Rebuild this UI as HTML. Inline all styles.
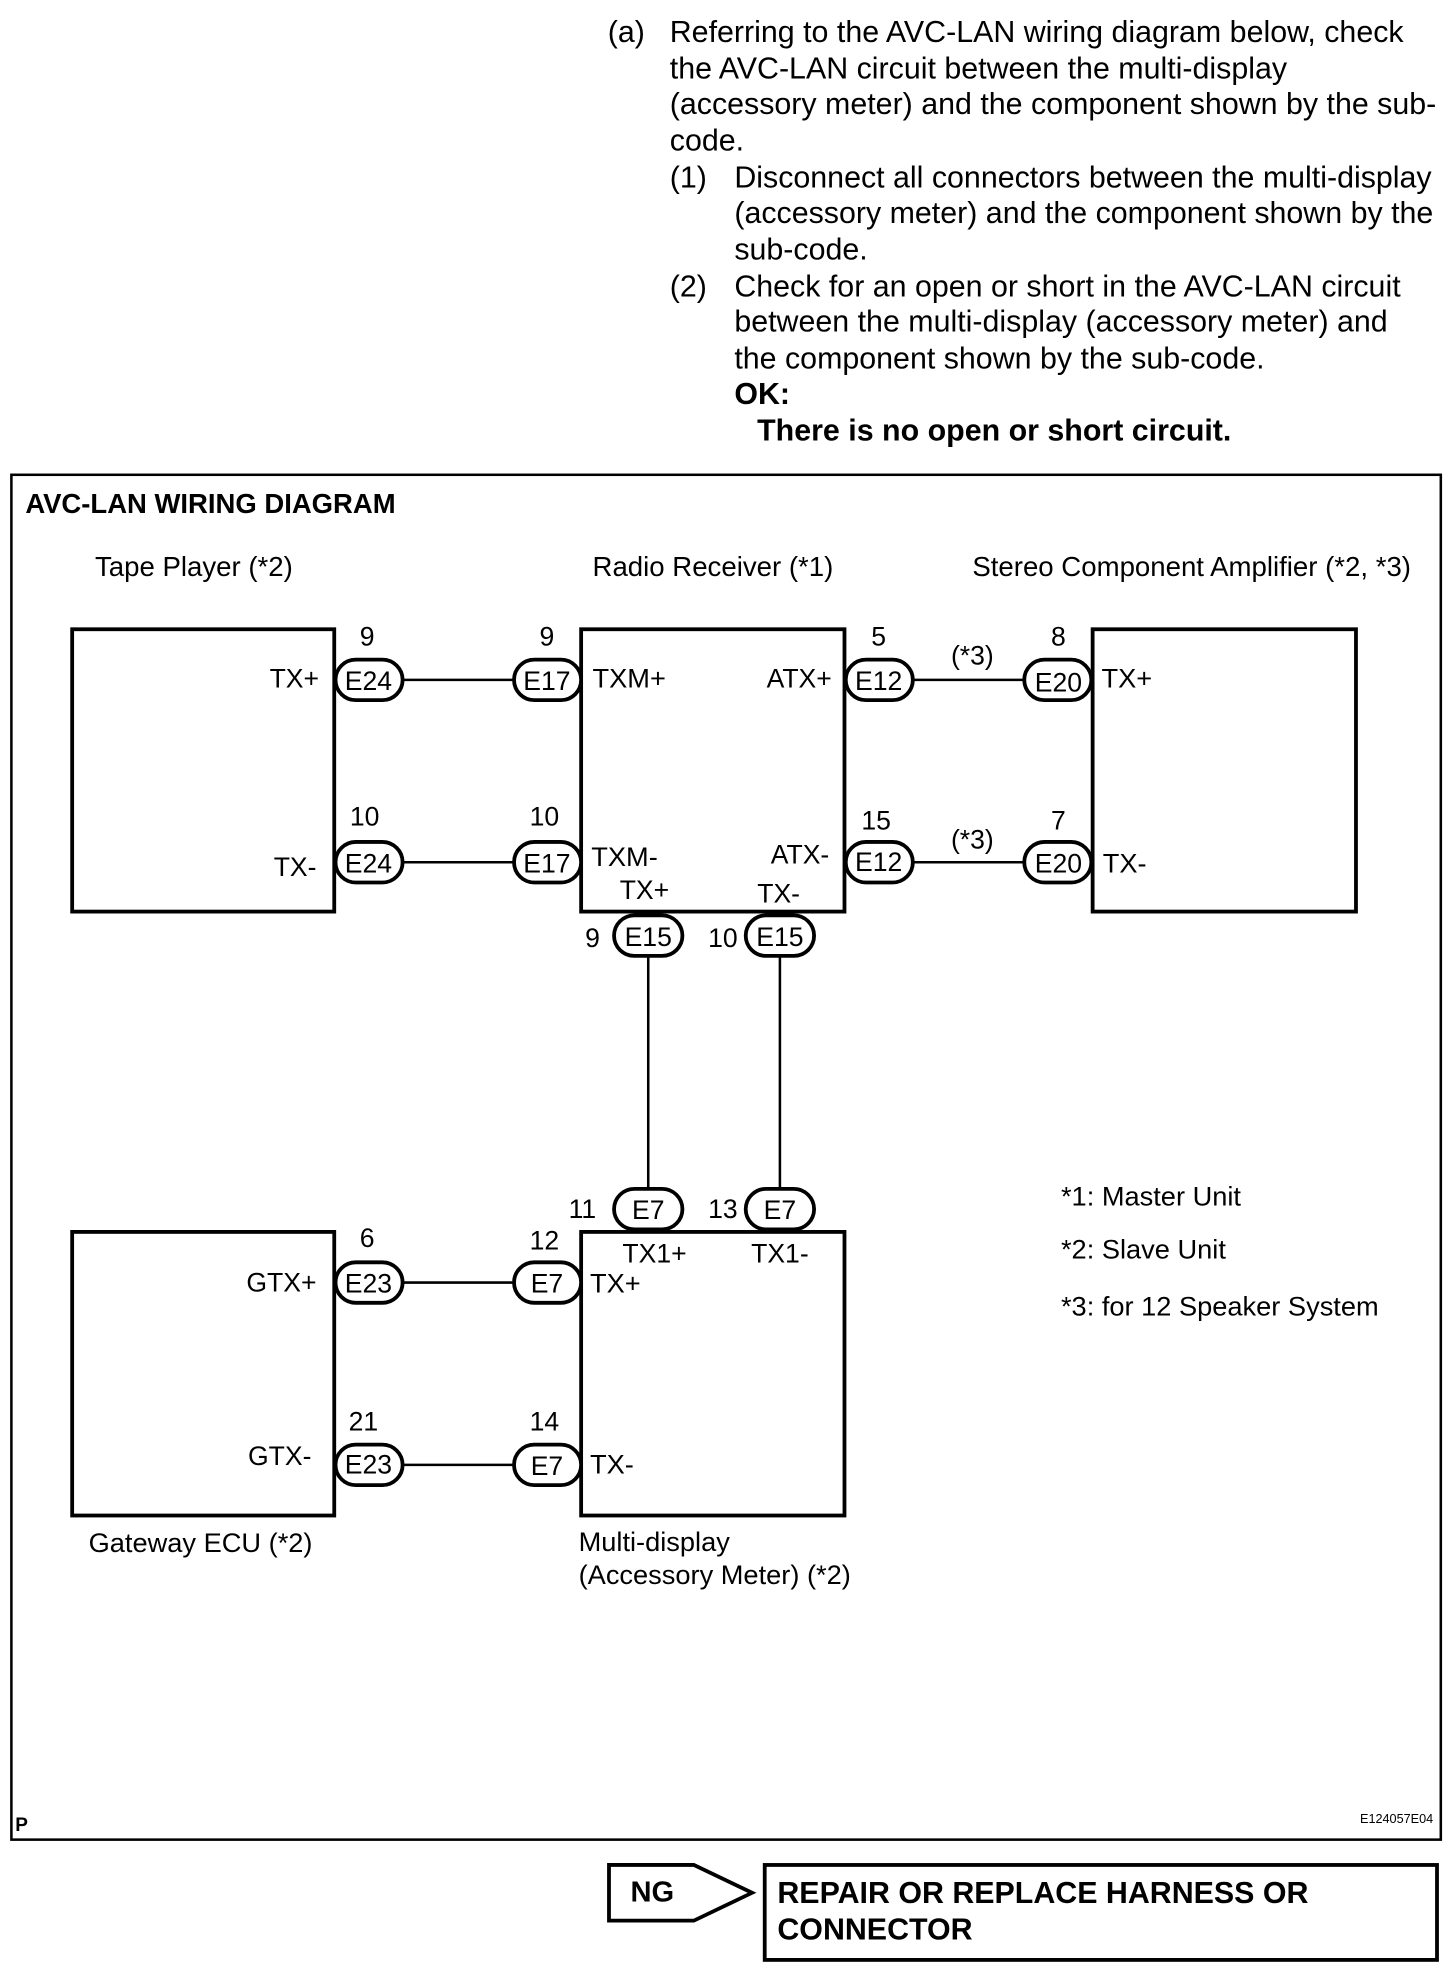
<!DOCTYPE html>
<html><head><meta charset="utf-8"><style>
html,body{margin:0;padding:0;background:#fff;}
svg{display:block;}
text{font-family:"Liberation Sans",Arial,sans-serif;fill:#000;}
</style></head><body>
<svg width="1456" height="1976" viewBox="0 0 1150 1560.7" xmlns="http://www.w3.org/2000/svg">
<g font-size="24">
<text x="480" y="33">(a)</text>
<text x="529" y="33">Referring to the AVC-LAN wiring diagram below, check</text>
<text x="529" y="62">the AVC-LAN circuit between the multi-display</text>
<text x="529" y="90">(accessory meter) and the component shown by the sub-</text>
<text x="529" y="119">code.</text>
<text x="529" y="148">(1)</text>
<text x="580" y="148">Disconnect all connectors between the multi-display</text>
<text x="580" y="176">(accessory meter) and the component shown by the</text>
<text x="580" y="205">sub-code.</text>
<text x="529" y="234">(2)</text>
<text x="580" y="234">Check for an open or short in the AVC-LAN circuit</text>
<text x="580" y="262">between the multi-display (accessory meter) and</text>
<text x="580" y="291">the component shown by the sub-code.</text>
<text x="580" y="319" font-weight="bold">OK:</text>
<text x="598" y="348" font-weight="bold">There is no open or short circuit.</text>
</g>
<rect x="9" y="375" width="1129" height="1078" fill="none" stroke="#000" stroke-width="2"/>
<text x="20" y="405" font-size="21.7" font-weight="bold">AVC-LAN WIRING DIAGRAM</text>
<g font-size="21.8">
<text x="75" y="455">Tape Player (*2)</text>
<text x="468" y="455">Radio Receiver (*1)</text>
<text x="768" y="455">Stereo Component Amplifier (*2, *3)</text>
</g>
<g fill="none" stroke="#000" stroke-width="3">
<rect x="57" y="497" width="207" height="223"/>
<rect x="459" y="497" width="208" height="223"/>
<rect x="863" y="497" width="208" height="223"/>
<rect x="57" y="973" width="207" height="224"/>
<rect x="459" y="973" width="208" height="224"/>
</g>
<g stroke="#000" stroke-width="2">
<line x1="318" y1="537" x2="406" y2="537"/>
<line x1="318" y1="681" x2="406" y2="681"/>
<line x1="721" y1="537" x2="809" y2="537"/>
<line x1="721" y1="681" x2="809" y2="681"/>
<line x1="512" y1="755" x2="512" y2="939"/>
<line x1="616" y1="755" x2="616" y2="939"/>
<line x1="318" y1="1013" x2="406" y2="1013"/>
<line x1="318" y1="1157" x2="406" y2="1157"/>
</g>
<g fill="#fff" stroke="#000" stroke-width="3">
<rect x="265" y="521" width="53" height="32" rx="16"/>
<rect x="406" y="521" width="53" height="32" rx="16"/>
<rect x="668" y="521" width="53" height="32" rx="16"/>
<rect x="809" y="521" width="53" height="32" rx="16"/>
<rect x="265" y="665" width="53" height="32" rx="16"/>
<rect x="406" y="665" width="53" height="32" rx="16"/>
<rect x="668" y="665" width="53" height="32" rx="16"/>
<rect x="809" y="665" width="53" height="32" rx="16"/>
<rect x="485" y="723" width="54" height="32" rx="16"/>
<rect x="589" y="723" width="54" height="32" rx="16"/>
<rect x="485" y="939" width="54" height="32" rx="16"/>
<rect x="589" y="939" width="54" height="32" rx="16"/>
<rect x="265" y="997" width="53" height="32" rx="16"/>
<rect x="406" y="997" width="53" height="32" rx="16"/>
<rect x="265" y="1141" width="53" height="32" rx="16"/>
<rect x="406" y="1141" width="53" height="32" rx="16"/>
</g>
<g font-size="21" text-anchor="middle">
<text x="291" y="545">E24</text><text x="432" y="545">E17</text>
<text x="694" y="545">E12</text><text x="836" y="546">E20</text>
<text x="291" y="689">E24</text><text x="432" y="689">E17</text>
<text x="694" y="688">E12</text><text x="836" y="689">E20</text>
<text x="512" y="747">E15</text><text x="616" y="747">E15</text>
<text x="512" y="963">E7</text><text x="616" y="963">E7</text>
<text x="291" y="1021">E23</text><text x="432" y="1021">E7</text>
<text x="291" y="1164">E23</text><text x="432" y="1165">E7</text>
<text x="290" y="510">9</text><text x="432" y="510">9</text>
<text x="694" y="510">5</text><text x="836" y="510">8</text>
<text x="288" y="652">10</text><text x="430" y="652">10</text>
<text x="692" y="655">15</text><text x="836" y="655">7</text>
<text x="768" y="525">(*3)</text><text x="768" y="670">(*3)</text>
<text x="468" y="748">9</text><text x="571" y="748">10</text>
<text x="460" y="962">11</text><text x="571" y="962">13</text>
<text x="290" y="985">6</text><text x="430" y="987">12</text>
<text x="287" y="1130">21</text><text x="430" y="1130">14</text>
<text x="509" y="710">TX+</text><text x="615" y="713">TX-</text>
<text x="517" y="997">TX1+</text><text x="616" y="997">TX1-</text>
</g>
<g font-size="21" text-anchor="end">
<text x="252" y="543">TX+</text><text x="250" y="692">TX-</text>
<text x="657" y="543">ATX+</text><text x="655" y="682">ATX-</text>
<text x="250" y="1020">GTX+</text><text x="246" y="1157">GTX-</text>
</g>
<g font-size="21.5">
<text x="468" y="543">TXM+</text><text x="467" y="684">TXM-</text>
<text x="870" y="543">TX+</text><text x="871" y="689">TX-</text>
<text x="466" y="1021">TX+</text><text x="466" y="1164">TX-</text>
<text x="838" y="952">*1: Master Unit</text>
<text x="838" y="994">*2: Slave Unit</text>
<text x="838" y="1039">*3: for 12 Speaker System</text>
<text x="70" y="1226">Gateway ECU (*2)</text>
<text x="457" y="1225">Multi-display</text>
<text x="457" y="1251">(Accessory Meter) (*2)</text>
</g>
<text x="12" y="1446" font-size="15" font-weight="bold">P</text>
<text x="1132" y="1440" font-size="10" text-anchor="end">E124057E04</text>
<polygon points="481,1473 548,1473 594,1495 548,1517 481,1517" fill="none" stroke="#000" stroke-width="3"/>
<text x="498" y="1502" font-size="23" font-weight="bold">NG</text>
<rect x="604" y="1473" width="531" height="75" fill="none" stroke="#000" stroke-width="3"/>
<text x="614" y="1503" font-size="24" font-weight="bold">REPAIR OR REPLACE HARNESS OR</text>
<text x="614" y="1532" font-size="24" font-weight="bold">CONNECTOR</text>
</svg>
</body></html>
